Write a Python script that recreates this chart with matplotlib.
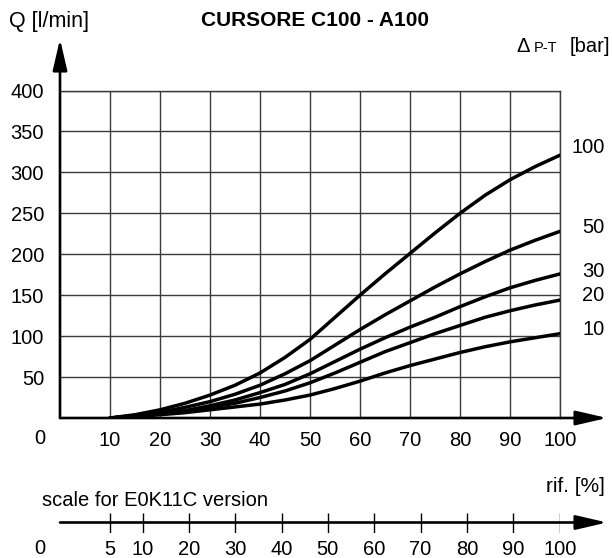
import matplotlib.pyplot as plt

plt.rcParams['font.family'] = ['Liberation Sans', 'DejaVu Sans']

# reference opening (rif. %) and flow Q [l/min] for each pressure drop
rif = [10, 15, 20, 25, 30, 35, 40, 45, 50, 55, 60, 65, 70, 75, 80, 85, 90, 95, 100]
q_100 = [0, 4, 10, 18, 28, 40, 55, 74, 96, 123, 150, 176, 201, 226, 250, 272, 291, 307, 321]
q_50 = [0, 3, 7, 13, 20, 29, 40, 54, 70, 89, 108, 126, 143, 160, 176, 191, 205, 217, 228]
q_30 = [0, 2, 5, 9, 15, 22, 31, 41, 54, 69, 84, 98, 111, 123, 136, 148, 159, 168, 176]
q_20 = [0, 2, 5, 8, 13, 18, 25, 33, 43, 55, 68, 81, 92, 103, 113, 123, 131, 138, 144]
q_10 = [0, 1.5, 4, 6.5, 10, 13.5, 17, 22, 28, 36, 45, 55, 64, 72, 80, 87, 93, 98, 103]
curves = [q_100, q_50, q_30, q_20, q_10]
curve_labels = ['100', '50', '30', '20', '10']

x_ticks = [10, 20, 30, 40, 50, 60, 70, 80, 90, 100]
y_ticks = [50, 100, 150, 200, 250, 300, 350, 400]

# E0K11C scale: tick labels and where they fall on the main rif axis
scale_ticks = [5, 10, 20, 30, 40, 50, 60, 70, 80, 90, 100]
scale_pos = [10, 16.5, 25.8, 35.0, 44.3, 53.5, 62.8, 72.1, 81.4, 90.6, 100]

W, H = 612, 558
FS = 14.5


def fx(px):
    return px / W


def fy(py):
    return 1 - py / H


fig = plt.figure(figsize=(W / 100, H / 100), dpi=100)

# main plot area (pixels: x 60..560, y 418..90.5)
L, R, B, T = 60, 560, 418, 90.5
ax = fig.add_axes([fx(L), fy(B), (R - L) / W, (B - T) / H])
ax.set_xlim(0, 100)
ax.set_ylim(0, 400)
ax.set_xticks(x_ticks)
ax.set_yticks(y_ticks)
ax.set_xticklabels([str(v) for v in x_ticks], fontsize=FS)
ax.set_yticklabels([str(v) for v in y_ticks], fontsize=FS)
ax.tick_params(length=0)
ax.tick_params(axis='x', pad=9.5)
ax.tick_params(axis='y', pad=11.5)
ax.grid(True, color='#3a3a3a', lw=1.0)
ax.set_axisbelow(True)
for s in ['left', 'bottom']:
    ax.spines[s].set_visible(False)
for s in ['top', 'right']:
    ax.spines[s].set_color('#3a3a3a')
    ax.spines[s].set_linewidth(1.0)

for q in curves:
    ax.plot(rif, q, color='black', lw=2.5, solid_capstyle='round', zorder=3)

label_dy = [5.5, 3, 2, 3, 3]
for q, lab, dy in zip(curves, curve_labels, label_dy):
    ax.annotate(lab, xy=(100, q[-1]), xytext=(32, dy), textcoords='offset points',
                ha='right', va='center', fontsize=FS, annotation_clip=False)

# axis arrows
arrow = dict(arrowstyle='-|>,head_length=19,head_width=4.4', mutation_scale=1,
             color='black', lw=1.9, shrinkA=0, shrinkB=0)
x_tip = (607 - L) / (R - L) * 100
y_tip = (B - 39) / (B - T) * 400
ax.annotate('', xy=(x_tip, 0), xytext=(0, 0), arrowprops=arrow, annotation_clip=False)
ax.annotate('', xy=(0, y_tip), xytext=(0, 0), arrowprops=arrow, annotation_clip=False)

# lower E0K11C scale
ax2 = fig.add_axes([fx(L), fy(532.5), (R - L) / W, 20 / H])
ax2.set_xlim(0, 100)
ax2.set_ylim(-1, 1)
ax2.axis('off')
ax2.annotate('', xy=(x_tip, 0), xytext=(0, 0), arrowprops=arrow, annotation_clip=False)
ax2.vlines(scale_pos, -1, 1, color='black', lw=1.0)
for p, v in zip(scale_pos, scale_ticks):
    ax2.annotate(str(v), xy=(p, -1), xytext=(0, -5.5), textcoords='offset points',
                 ha='center', va='top', fontsize=FS, annotation_clip=False)

# texts
fig.text(fx(40), fy(438), '0', ha='center', va='center', fontsize=FS)
fig.text(fx(40), fy(548), '0', ha='center', va='center', fontsize=FS)
fig.text(fx(9), fy(21), 'Q [l/min]', ha='left', va='center', fontsize=15.5)
fig.text(fx(315), fy(20), 'CURSORE C100 - A100', ha='center', va='center',
         fontsize=15, fontweight='bold')
fig.text(fx(516), fy(52), '\u0394', ha='left', va='baseline', fontsize=14.5)
fig.text(fx(534), fy(52), 'P-T', ha='left', va='baseline', fontsize=10.5)
fig.text(fx(610), fy(52), '[bar]', ha='right', va='baseline', fontsize=FS)
fig.text(fx(605), fy(487), 'rif. [%]', ha='right', va='center', fontsize=15)
fig.text(fx(42), fy(500), 'scale for E0K11C version', ha='left', va='center', fontsize=FS)

fig.savefig('out.png', dpi=100)
